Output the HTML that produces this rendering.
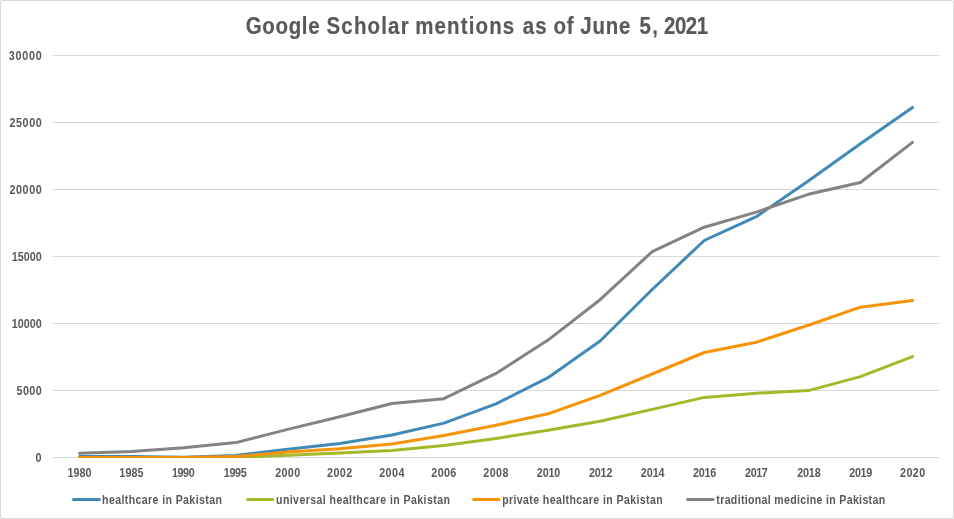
<!DOCTYPE html>
<html><head><meta charset="utf-8"><title>Google Scholar mentions as of June 5, 2021</title>
<style>
html,body{margin:0;padding:0;background:#fff;}
svg{display:block;}
text{font-family:"Liberation Sans",sans-serif;fill:#595959;}
.t{font-size:23.5px;font-weight:bold;stroke:#595959;stroke-width:0.2px;}
.l{font-size:12px;font-weight:bold;}
</style></head><body>
<svg width="954" height="519" viewBox="0 0 954 519">
<rect x="0" y="0" width="954" height="519" fill="#fff"/>
<rect x="0.5" y="0.5" width="953" height="518" rx="1.5" fill="none" stroke="#d9d9d9" stroke-width="1"/>
<line x1="53" x2="939" y1="55.5" y2="55.5" stroke="#d9d9d9" stroke-width="1"/>
<line x1="53" x2="939" y1="122.5" y2="122.5" stroke="#d9d9d9" stroke-width="1"/>
<line x1="53" x2="939" y1="189.5" y2="189.5" stroke="#d9d9d9" stroke-width="1"/>
<line x1="53" x2="939" y1="256.5" y2="256.5" stroke="#d9d9d9" stroke-width="1"/>
<line x1="53" x2="939" y1="323.5" y2="323.5" stroke="#d9d9d9" stroke-width="1"/>
<line x1="53" x2="939" y1="390.5" y2="390.5" stroke="#d9d9d9" stroke-width="1"/>
<line x1="53" x2="939" y1="457.5" y2="457.5" stroke="#d9d9d9" stroke-width="1"/>
<clipPath id="pa"><rect x="53" y="40" width="886" height="418"/></clipPath><g clip-path="url(#pa)">
<polyline points="79.5,456.6 131.6,456.5 183.6,457.3 235.7,455.5 287.7,449.3 339.8,443.6 391.9,435.0 443.9,423.1 496.0,403.9 548.0,377.7 600.1,341.0 652.2,289.5 704.2,240.5 756.3,216.7 808.3,180.9 860.4,143.7 912.5,107.4" fill="none" stroke="#4189b6" stroke-width="3" stroke-linecap="round" stroke-linejoin="round"/>
<polyline points="79.5,457.5 131.6,457.5 183.6,457.5 235.7,457.5 287.7,455.2 339.8,453.1 391.9,450.4 443.9,445.6 496.0,438.5 548.0,430.2 600.1,421.3 652.2,409.4 704.2,397.4 756.3,393.2 808.3,390.6 860.4,376.6 912.5,356.6" fill="none" stroke="#a3b82a" stroke-width="3" stroke-linecap="round" stroke-linejoin="round"/>
<polyline points="79.5,457.4 131.6,457.4 183.6,457.4 235.7,456.5 287.7,452.0 339.8,448.8 391.9,443.9 443.9,435.5 496.0,425.2 548.0,413.8 600.1,395.4 652.2,374.0 704.2,352.5 756.3,342.3 808.3,325.3 860.4,307.2 912.5,300.4" fill="none" stroke="#f79306" stroke-width="3" stroke-linecap="round" stroke-linejoin="round"/>
<polyline points="79.5,453.3 131.6,451.4 183.6,447.8 235.7,442.6 287.7,429.4 339.8,416.8 391.9,403.5 443.9,398.7 496.0,373.4 548.0,340.1 600.1,299.7 652.2,251.6 704.2,227.2 756.3,212.1 808.3,194.3 860.4,182.5 912.5,142.4" fill="none" stroke="#838383" stroke-width="3" stroke-linecap="round" stroke-linejoin="round"/>
</g>
<line x1="73.5" x2="99.4" y1="499.5" y2="499.5" stroke="#4189b6" stroke-width="3" stroke-linecap="round"/>
<line x1="247.5" x2="272.6" y1="499.5" y2="499.5" stroke="#a3b82a" stroke-width="3" stroke-linecap="round"/>
<line x1="473.6" x2="499.1" y1="499.5" y2="499.5" stroke="#f79306" stroke-width="3" stroke-linecap="round"/>
<line x1="687.6" x2="713.1" y1="499.5" y2="499.5" stroke="#838383" stroke-width="3" stroke-linecap="round"/>
<text class="l" transform="translate(8.87,60.0) scale(0.9,1)" textLength="36.53" lengthAdjust="spacing">30000</text>
<text class="l" transform="translate(9.45,127.0) scale(0.9,1)" textLength="35.89" lengthAdjust="spacing">25000</text>
<text class="l" transform="translate(9.45,194.0) scale(0.9,1)" textLength="35.89" lengthAdjust="spacing">20000</text>
<text class="l" transform="translate(11.63,261.0) scale(0.9,1)" textLength="33.47" lengthAdjust="spacing">15000</text>
<text class="l" transform="translate(11.63,328.0) scale(0.9,1)" textLength="33.47" lengthAdjust="spacing">10000</text>
<text class="l" transform="translate(16.45,395.0) scale(0.9,1)" textLength="28.11" lengthAdjust="spacing">5000</text>
<text class="l" transform="translate(35.55,462.0) scale(0.9,1)" textLength="11.89" lengthAdjust="spacing">0</text>
<text class="l" transform="translate(67.53,477.2) scale(0.9,1)" textLength="26.69" lengthAdjust="spacing">1980</text>
<text class="l" transform="translate(119.33,477.2) scale(0.9,1)" textLength="26.92" lengthAdjust="spacing">1985</text>
<text class="l" transform="translate(171.92,477.2) scale(0.9,1)" textLength="25.25" lengthAdjust="spacing">1990</text>
<text class="l" transform="translate(223.73,477.2) scale(0.9,1)" textLength="25.58" lengthAdjust="spacing">1995</text>
<text class="l" transform="translate(275.15,477.2) scale(0.9,1)" textLength="27.78" lengthAdjust="spacing">2000</text>
<text class="l" transform="translate(327.05,477.2) scale(0.9,1)" textLength="28.00" lengthAdjust="spacing">2002</text>
<text class="l" transform="translate(379.15,477.2) scale(0.9,1)" textLength="28.17" lengthAdjust="spacing">2004</text>
<text class="l" transform="translate(431.35,477.2) scale(0.9,1)" textLength="27.67" lengthAdjust="spacing">2006</text>
<text class="l" transform="translate(483.25,477.2) scale(0.9,1)" textLength="28.11" lengthAdjust="spacing">2008</text>
<text class="l" transform="translate(536.85,477.2) scale(0.9,1)" textLength="26.11" lengthAdjust="spacing">2010</text>
<text class="l" transform="translate(588.95,477.2) scale(0.9,1)" textLength="26.11" lengthAdjust="spacing">2012</text>
<text class="l" transform="translate(640.75,477.2) scale(0.9,1)" textLength="26.50" lengthAdjust="spacing">2014</text>
<text class="l" transform="translate(693.05,477.2) scale(0.9,1)" textLength="25.78" lengthAdjust="spacing">2016</text>
<text class="l" transform="translate(745.05,477.2) scale(0.9,1)" textLength="25.33" lengthAdjust="spacing">2017</text>
<text class="l" transform="translate(797.15,477.2) scale(0.9,1)" textLength="26.22" lengthAdjust="spacing">2018</text>
<text class="l" transform="translate(849.25,477.2) scale(0.9,1)" textLength="25.56" lengthAdjust="spacing">2019</text>
<text class="l" transform="translate(900.05,477.2) scale(0.9,1)" textLength="27.89" lengthAdjust="spacing">2020</text>
<text class="t" transform="translate(0,33.9) scale(0.87,1)"><tspan x="282.44" textLength="84.89" lengthAdjust="spacing">Google</tspan> <tspan x="375.34" textLength="94.34" lengthAdjust="spacing">Scholar</tspan> <tspan x="477.30" textLength="113.71" lengthAdjust="spacing">mentions</tspan> <tspan x="600.86" textLength="27.39" lengthAdjust="spacing">as</tspan> <tspan x="636.12" textLength="23.19" lengthAdjust="spacing">of</tspan> <tspan x="666.98" textLength="57.47" lengthAdjust="spacing">June</tspan> <tspan x="735.20" textLength="21.06" lengthAdjust="spacing">5,</tspan> <tspan x="763.36" textLength="50.49" lengthAdjust="spacing">2021</tspan></text>
<text class="l" transform="translate(102.12,504.2) scale(0.88,1)" textLength="136.08" lengthAdjust="spacing">healthcare in Pakistan</text>
<text class="l" transform="translate(276.02,504.2) scale(0.88,1)" textLength="197.67" lengthAdjust="spacing">universal healthcare in Pakistan</text>
<text class="l" transform="translate(502.13,504.2) scale(0.88,1)" textLength="182.44" lengthAdjust="spacing">private healthcare in Pakistan</text>
<text class="l" transform="translate(716.36,504.2) scale(0.88,1)" textLength="191.76" lengthAdjust="spacing">traditional medicine in Pakistan</text>
</svg></body></html>
